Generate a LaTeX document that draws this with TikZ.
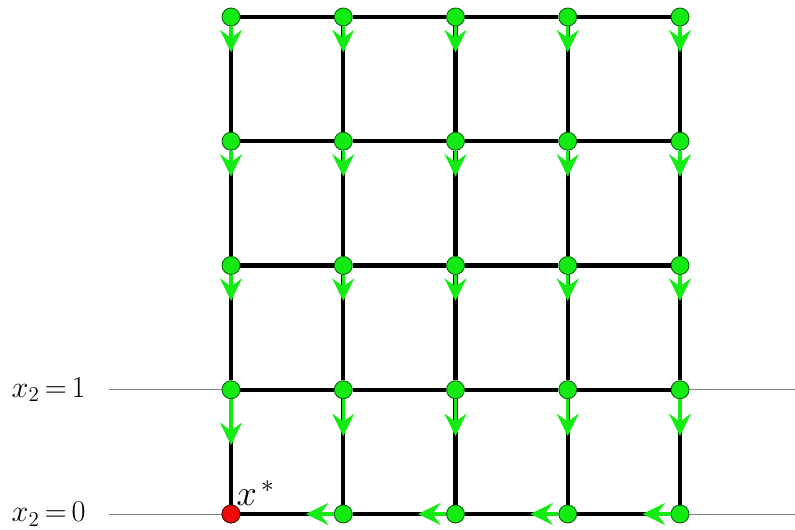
\documentclass[tikz,border=0pt]{standalone}
\usepackage{amsmath}
\usepackage{amssymb}
\usepackage{tikz}
\usetikzlibrary{arrows.meta,calc,positioning}
\definecolor{PathGreen}{RGB}{20,235,20}
\definecolor{OptRed}{RGB}{240,10,10}

\begin{document}
\begin{tikzpicture}[font=\fontsize{16.5}{20}\selectfont,
  vertex/.style={circle, draw=black!60!PathGreen, fill=PathGreen, line width=0.5pt, inner sep=0pt, minimum size=0.36cm},
  edge/.style={black, line width=2.3pt},
  flow/.style={PathGreen, line width=1.8pt, -{Stealth[length=0.45cm, width=0.44cm, inset=0.16cm]}}]
  \useasboundingbox (0,0) rectangle (15.9,10.6);

  % Level lines x_2 = 0 and x_2 = 1
  \coordinate (h0-start) at (2.18,0.32);
  \coordinate (h0-end) at (15.9,0.32);
  \coordinate (h1-start) at (2.18,2.805);
  \coordinate (h1-end) at (15.9,2.805);
  \draw[gray, line width=0.5pt] (h0-start) -- (h0-end);
  \draw[gray, line width=0.5pt] (h1-start) -- (h1-end);
  \node[left=0.46cm of h0-start, inner sep=0pt] (lab0) {$x_2 \mskip-2mu = \mskip-2mu 0$};
  \node[left=0.46cm of h1-start, inner sep=0pt] (lab1) {$x_2 \mskip-2mu = \mskip-2mu 1$};

  % 5x5 lattice of points
  \foreach \i in {0,...,4}
    \foreach \j in {0,...,4}
      \node[vertex] (n-\i-\j) at ({4.62+2.245*\i}, {0.32+2.485*\j}) {};

  % Optimum point
  \node[vertex, fill=OptRed, draw=black!60!OptRed] (n-0-0) at (4.62,0.32) {};
  \node[anchor=south west, inner sep=0pt, font=\fontsize{20}{24}\selectfont] (xstar) at ($(n-0-0.north east)+(-0.03,0.02)$) {$x^{\,\ast}$};

  % Grid edges
  \foreach \i/\k in {0/1,1/2,2/3,3/4}
    \foreach \j in {0,...,4} {
      \draw[edge] (n-\i-\j) -- (n-\k-\j);
      \draw[edge] (n-\j-\i) -- (n-\j-\k);
    }

  % Descent directions: down in upper rows
  \foreach \i in {0,...,4}
    \foreach \j in {2,3,4}
      \draw[flow] (n-\i-\j.south) -- ++(0,-0.52);
  \draw[flow] (n-0-1.south) -- ++(0,-0.92);
  \foreach \i in {1,...,4}
    \draw[flow] (n-\i-1.south) -- ++(0,-0.74);

  % Descent directions: left along x_2 = 0
  \foreach \i in {1,...,4}
    \draw[flow] (n-\i-0.west) -- ++(-0.56,0);
\end{tikzpicture}
\end{document}
